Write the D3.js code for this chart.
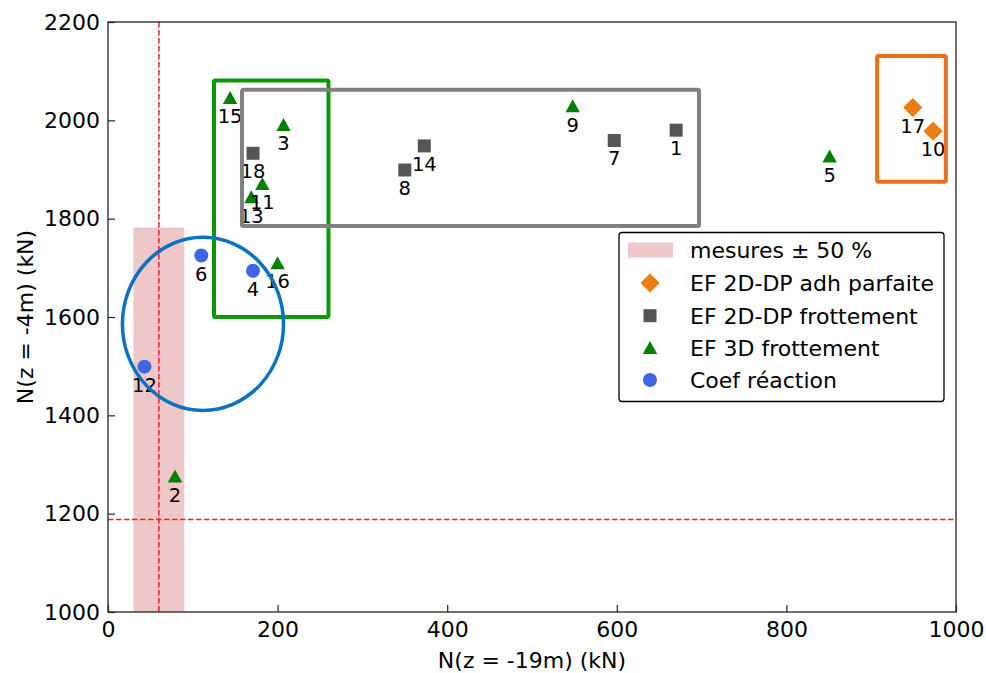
<!DOCTYPE html>
<html><head><meta charset="utf-8">
<script src="https://cdn.jsdelivr.net/npm/d3@7"></script>
<style>body{margin:0;background:#fff;} svg{font-family:"DejaVu Sans",sans-serif;}</style>
</head><body>
<svg id="c" width="986" height="673"></svg>
<script>
// ---- data ----
const xTicks = [0, 200, 400, 600, 800, 1000];
const yTicks = [1000, 1200, 1400, 1600, 1800, 2000, 2200];

const adhLabels = ["17", "10"];
const adhX = [949, 973];
const adhY = [2026, 1978];

const frot2dLabels = ["18", "14", "8", "7", "1"];
const frot2dX = [171, 373, 350, 597, 670];
const frot2dY = [1933, 1948, 1899, 1959, 1980];

const frot3dLabels = ["15", "3", "11", "13", "16", "2", "9", "5"];
const frot3dX = [144, 207, 182, 169, 200, 79, 548, 851];
const frot3dY = [2045, 1990, 1870, 1843, 1709, 1275, 2028, 1926];

const coefLabels = ["6", "4", "12"];
const coefX = [110, 171, 43];
const coefY = [1725, 1694, 1499];

const mesureX = 60, mesureY = 1188;      // measured values
const bandX = [30, 90], bandY = [594, 1782]; // ± 50 %

// highlight rectangles [x0, x1, y0, y1]
const rectGreen = [125, 260, 1600, 2081];
const rectGray = [158, 697, 1785, 2062];
const rectOrange = [907, 988, 1875, 2131];
const ellipseCoef = { cx: 112, cy: 1586, rx: 95, ry: 176 };

const legendLabels = ["mesures \u00b1 50 %", "EF 2D-DP adh parfaite", "EF 2D-DP frottement", "EF 3D frottement", "Coef r\u00e9action"];

// ---- chart ----
const svg = d3.select("#c");
const L = 108, R = 956, T = 22, B = 612;
const x = d3.scaleLinear().domain([0, 1000]).range([L, R]);
const y = d3.scaleLinear().domain([1000, 2200]).range([B, T]);

const defs = svg.append("defs");
defs.append("clipPath").attr("id", "clip").append("rect")
  .attr("x", L).attr("y", T).attr("width", R - L).attr("height", B - T);

const plot = svg.append("g").attr("clip-path", "url(#clip)");

// band
plot.append("rect")
  .attr("x", x(bandX[0])).attr("width", x(bandX[1]) - x(bandX[0]))
  .attr("y", y(bandY[1])).attr("height", y(bandY[0]) - y(bandY[1]))
  .attr("fill", "#eec8c8");

// dashed lines
plot.append("line").attr("x1", x(mesureX)).attr("x2", x(mesureX)).attr("y1", T).attr("y2", B)
  .attr("stroke", "#ff1a1a").attr("stroke-width", 1.5).attr("stroke-dasharray", "5.5,2.5");
plot.append("line").attr("x1", L).attr("x2", R).attr("y1", y(mesureY)).attr("y2", y(mesureY))
  .attr("stroke", "#ff1a1a").attr("stroke-width", 1.5).attr("stroke-dasharray", "5.5,2.5");

// markers
const sym = (type, size) => d3.symbol().type(type).size(size);
function series(xs, ys, labels, path, color, rot) {
  xs.forEach((v, i) => {
    plot.append("path").attr("d", path)
      .attr("transform", `translate(${x(v)},${y(ys[i])})` + (rot ? " rotate(45)" : ""))
      .attr("fill", color);
  });
}
const triPath = (() => { const s = 7.2; return `M0,${-s}L${s},${s*0.8}L${-s},${s*0.8}Z`; })();
series(frot3dX, frot3dY, frot3dLabels, triPath, "#008000");
series(frot2dX, frot2dY, frot2dLabels, "M-6.5,-6.5H6.5V6.5H-6.5Z", "#555555");
series(adhX, adhY, adhLabels, "M-6.8,-6.8H6.8V6.8H-6.8Z", "#ec7c14", true);
series(coefX, coefY, coefLabels, sym(d3.symbolCircle, 154)(), "#3f66e4");

// labels
function labels(xs, ys, ls) {
  xs.forEach((v, i) => {
    svg.append("text").attr("x", x(v)).attr("y", y(ys[i]) + 25)
      .attr("text-anchor", "middle").attr("font-size", 19.5).attr("fill", "#000").text(ls[i]);
  });
}
labels(frot3dX, frot3dY, frot3dLabels);
labels(frot2dX, frot2dY, frot2dLabels);
labels(adhX, adhY, adhLabels);
labels(coefX, coefY, coefLabels);

// rectangles
function box(r, color) {
  svg.append("rect").attr("x", x(r[0])).attr("y", y(r[3]))
    .attr("width", x(r[1]) - x(r[0])).attr("height", y(r[2]) - y(r[3]))
    .attr("fill", "none").attr("stroke", color).attr("stroke-width", 4).attr("rx", 1.5);
}
box(rectGreen, "#079b07");
box(rectGray, "#808080");
box(rectOrange, "#e8711c");
svg.append("ellipse").attr("cx", x(ellipseCoef.cx)).attr("cy", y(ellipseCoef.cy))
  .attr("rx", x(ellipseCoef.rx) - x(0)).attr("ry", y(1000) - y(1000 + ellipseCoef.ry))
  .attr("fill", "none").attr("stroke", "#0a72c0").attr("stroke-width", 3.5);

// axes
const fmt = d3.format("d");
const xAxis = svg.append("g").attr("transform", `translate(0,${B})`)
  .call(d3.axisBottom(x).tickValues(xTicks).tickFormat(fmt).tickSizeInner(-7).tickSizeOuter(0).tickPadding(9));
const yAxis = svg.append("g").attr("transform", `translate(${L},0)`)
  .call(d3.axisLeft(y).tickValues(yTicks).tickFormat(fmt).tickSizeInner(-7).tickSizeOuter(0).tickPadding(8));
[xAxis, yAxis].forEach(g => {
  g.select(".domain").remove();
  g.selectAll("line").attr("stroke", "#222").attr("stroke-width", 1.2);
  g.selectAll("text").attr("font-size", 22).attr("fill", "#000").attr("font-family", "DejaVu Sans");
});
svg.append("rect").attr("x", L).attr("y", T).attr("width", R - L).attr("height", B - T)
  .attr("fill", "none").attr("stroke", "#222").attr("stroke-width", 1.3);

svg.append("text").attr("x", (L + R) / 2).attr("y", 668).attr("text-anchor", "middle")
  .attr("font-size", 22).text("N(z = -19m) (kN)");
svg.append("text").attr("transform", `translate(33,${(T + B) / 2}) rotate(-90)`).attr("text-anchor", "middle")
  .attr("font-size", 22).text("N(z = -4m) (kN)");

// legend
const lg = svg.append("g");
lg.append("rect").attr("x", 619).attr("y", 232.5).attr("width", 325).attr("height", 169)
  .attr("rx", 3).attr("fill", "#fff").attr("stroke", "#000").attr("stroke-width", 1.3);
const rowY = [250, 283, 315.7, 348.3, 380];
lg.append("rect").attr("x", 628).attr("y", rowY[0] - 7.5).attr("width", 45).attr("height", 15).attr("fill", "#eec8c8");
lg.append("path").attr("d", "M-6.8,-6.8H6.8V6.8H-6.8Z").attr("transform", `translate(650,${rowY[1]}) rotate(45)`).attr("fill", "#ec7c14");
lg.append("path").attr("d", "M-6.5,-6.5H6.5V6.5H-6.5Z").attr("transform", `translate(650,${rowY[2]})`).attr("fill", "#555555");
lg.append("path").attr("d", triPath).attr("transform", `translate(650,${rowY[3]})`).attr("fill", "#008000");
lg.append("path").attr("d", sym(d3.symbolCircle, 154)()).attr("transform", `translate(650,${rowY[4]})`).attr("fill", "#3f66e4");
legendLabels.forEach((t, i) => {
  lg.append("text").attr("x", 690).attr("y", rowY[i]).attr("dy", "0.36em")
    .attr("font-size", 22).attr("fill", "#000").text(t);
});
</script>
</body></html>
